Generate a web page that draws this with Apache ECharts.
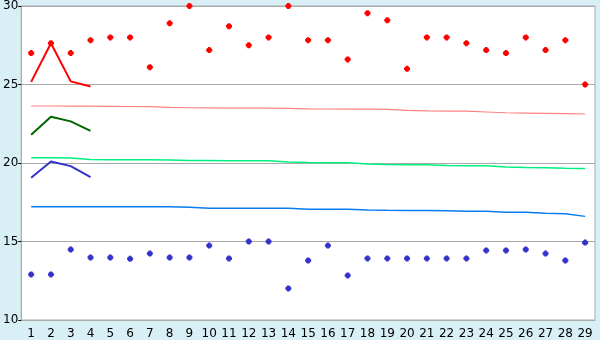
<!DOCTYPE html>
<html>
<head>
<meta charset="utf-8">
<style>
html,body{margin:0;padding:0;background:#d8eff5;}
#chart{width:600px;height:340px;}
</style>
<script src="https://cdn.jsdelivr.net/npm/echarts@6/dist/echarts.min.js"></script>
</head>
<body>
<div id="chart"></div>
<script>
var categories = ['1','2','3','4','5','6','7','8','9','10','11','12','13','14','15','16','17','18','19','20','21','22','23','24','25','26','27','28','29'];
var yTicks = [10, 15, 20, 25, 30];

var redPoints = [27.0,27.63,27.0,27.82,28.0,28.0,26.1,28.9,30.0,27.19,28.71,27.5,28.0,30.0,27.82,27.82,26.6,29.54,29.09,26.0,28.0,28.0,27.63,27.19,27.0,28.0,27.19,27.82,25.0];
var bluePoints = [12.9,12.9,14.49,13.98,13.98,13.9,14.23,13.98,13.98,14.74,13.92,15.0,15.0,12.01,13.79,14.74,12.84,13.92,13.92,13.92,13.92,13.92,13.92,14.43,14.43,14.49,14.23,13.79,14.93];

var redLine = [25.17,27.63,25.2,24.87];
var greenLine = [21.8,22.95,22.65,22.05];
var blueLine = [19.06,20.1,19.8,19.1];

var pinkTrend = [23.63,23.63,23.62,23.62,23.61,23.6,23.59,23.54,23.52,23.51,23.5,23.5,23.49,23.48,23.45,23.44,23.43,23.43,23.42,23.35,23.32,23.31,23.3,23.25,23.2,23.18,23.16,23.14,23.12];
var greenTrend = [20.33,20.33,20.32,20.22,20.21,20.2,20.2,20.19,20.16,20.16,20.15,20.14,20.14,20.06,20.03,20.02,20.02,19.93,19.9,19.89,19.89,19.84,19.83,19.82,19.74,19.71,19.7,19.67,19.65];
var blueTrend = [17.22,17.22,17.22,17.22,17.22,17.22,17.22,17.22,17.18,17.11,17.11,17.11,17.11,17.11,17.05,17.05,17.05,17.01,16.99,16.98,16.98,16.96,16.92,16.92,16.87,16.86,16.8,16.77,16.6];

var marker = 'path://M2,0 H5 V1 H6 V2 H7 V5 H6 V6 H5 V7 H2 V6 H1 V5 H0 V2 H1 V1 H2 Z';
var fontFam = '"DejaVu Sans", Verdana, sans-serif';

var chart = echarts.init(document.getElementById('chart'), null, {renderer: 'canvas'});
chart.setOption({
  animation: false,
  backgroundColor: '#d8eff5',
  grid: {left: 20, right: 5, top: 5, bottom: 20, show: true, backgroundColor: '#ffffff', borderColor: '#aaaaaa', borderWidth: 1},
  xAxis: {
    type: 'category',
    data: categories,
    boundaryGap: true,
    axisLine: {lineStyle: {color: '#aaaaaa', width: 1}},
    axisTick: {alignWithLabel: true, length: 5, lineStyle: {color: '#000000'}},
    axisLabel: {color: '#000000', fontFamily: fontFam, fontSize: 12, margin: 8, interval: 0},
    splitLine: {show: false}
  },
  yAxis: {
    type: 'value',
    min: yTicks[0],
    max: yTicks[yTicks.length - 1],
    interval: 5,
    axisLine: {show: true, lineStyle: {color: '#aaaaaa', width: 1}},
    axisTick: {show: true, length: 3, lineStyle: {color: '#000000'}},
    axisLabel: {color: '#000000', fontFamily: fontFam, fontSize: 12, margin: 3},
    splitLine: {show: true, lineStyle: {color: '#aaaaaa', width: 1}}
  },
  series: [
    {type: 'line', data: pinkTrend, symbol: 'none', lineStyle: {color: '#ff8080', width: 1.2}, silent: true},
    {type: 'line', data: greenTrend, symbol: 'none', lineStyle: {color: '#00f080', width: 1.5}, silent: true},
    {type: 'line', data: blueTrend, symbol: 'none', lineStyle: {color: '#0a7cf0', width: 1.5}, silent: true},
    {type: 'line', data: redLine, symbol: 'none', lineStyle: {color: '#ff0000', width: 2}},
    {type: 'line', data: greenLine, symbol: 'none', lineStyle: {color: '#006600', width: 2}},
    {type: 'line', data: blueLine, symbol: 'none', lineStyle: {color: '#3333cc', width: 2}},
    {type: 'scatter', data: redPoints, symbol: marker, symbolSize: 6, itemStyle: {color: '#ff0000', opacity: 1, borderWidth: 0}},
    {type: 'scatter', data: bluePoints, symbol: marker, symbolSize: 6, itemStyle: {color: '#3333cc', opacity: 1, borderWidth: 0}}
  ]
});
</script>
</body>
</html>
